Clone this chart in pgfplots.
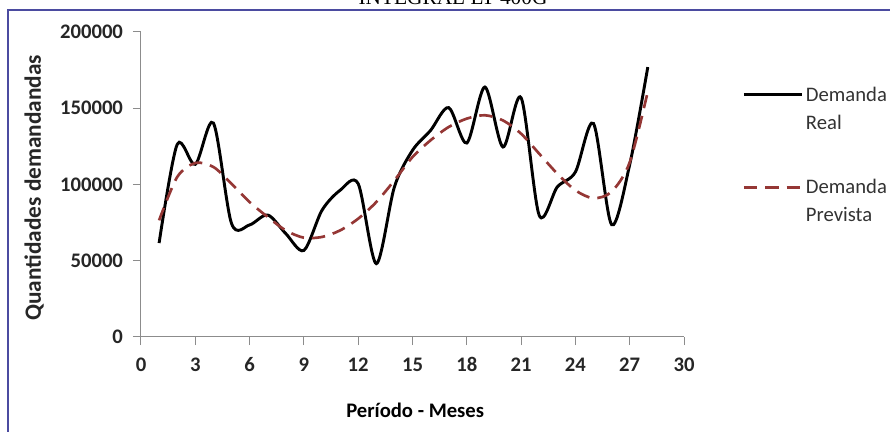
\documentclass[border=0pt]{standalone}
\usepackage{fontspec}
\setmainfont{Carlito}
\newfontfamily\seriff{Liberation Serif}
\usepackage{pgfplots}
\usepackage{pgfplotstable}
\pgfplotsset{compat=1.18}
\definecolor{frameblue}{HTML}{4B4BA0}
\definecolor{prevred}{HTML}{953735}
\definecolor{axisgray}{HTML}{8C8C8C}
\pgfplotstableread{
m v
1 61600
2 126300
3 113200
4 140300
5 74500
6 73500
7 80000
8 67800
9 56800
10 83100
11 96200
12 100500
13 48100
14 98400
15 122400
16 135500
17 150400
18 127200
19 163900
20 124600
21 156900
22 79800
23 98400
24 108200
25 140000
26 73700
27 113000
28 177000
}\real
\pgfplotstableread{
m v
1 76500
2 104900
3 114100
4 111500
5 100500
6 88500
7 78700
8 69900
9 65100
10 65600
11 69900
12 77600
13 88500
14 102700
15 118000
16 129000
17 137700
18 143200
19 145400
20 142000
21 133300
22 120200
23 107100
24 96200
25 91000
26 95300
27 114500
28 161000
}\prev
\begin{document}
\begin{tikzpicture}
\useasboundingbox (0,0) rectangle (667.5pt,324pt);
\clip (0,0) rectangle (667.5pt,324pt);
\fill[white] (0,0) rectangle (667.5pt,324pt);
\draw[frameblue, line width=1.5pt] (6pt,-5pt) -- (6pt,316.5pt) -- (675pt,316.5pt);
\node[font=\seriff\fontsize{16}{18}\selectfont, anchor=base] at (339.75pt,320.25pt) {INTEGRAL LT 400G};
\begin{axis}[
  at={(105.75pt,71.25pt)}, anchor=south west,
  scale only axis, width=407.25pt, height=228.75pt,
  xmin=0, xmax=30, ymin=0, ymax=200000,
  xtick={0,3,...,30}, ytick={0,50000,100000,150000,200000},
  axis lines=left,
  axis line style={-, draw=axisgray, line width=0.75pt},
  tick style={draw=axisgray, line width=0.75pt},
  tick align=outside, major tick length=6pt,
  scaled y ticks=false,
  /pgf/number format/assume math mode=true,
  yticklabel style={/pgf/number format/fixed, /pgf/number format/1000 sep={}, xshift=-4pt},
  xticklabel style={yshift=-6pt},
  ticklabel style={font=\bfseries\fontsize{15.5}{18}\selectfont, text=black!85},
  xlabel={Período - Meses}, ylabel={Quantidades demandandas},
  every axis x label/.style={at={(axis description cs:0.505,-0.239)}, anchor=center,
    font=\bfseries\fontsize{15.5}{18}\selectfont},
  every axis y label/.style={at={(axis description cs:-0.197,0.489)}, rotate=90, anchor=center,
    font=\bfseries\fontsize{17.5}{21}\selectfont, text=black!85},
  legend style={draw=none, fill=none, at={(axis description cs:1.107,0.83)}, anchor=north west,
    font=\fontsize{15.5}{21}\selectfont, text=black!80, cells={anchor=west, align=left}, row sep=32pt, inner sep=0pt},
  legend image code/.code={\draw[#1] (0pt,10.5pt) -- (43.5pt,10.5pt);},
]
\addplot[black, line width=2.2pt, smooth, tension=0.5] table[x=m, y=v] {\real};
\addlegendentry{Demanda\\Real}
\addplot[prevred, line width=2pt, dash pattern=on 10pt off 6pt, smooth, tension=0.5] table[x=m, y=v] {\prev};
\addlegendentry{Demanda\\Prevista}
\end{axis}
\end{tikzpicture}
\end{document}
